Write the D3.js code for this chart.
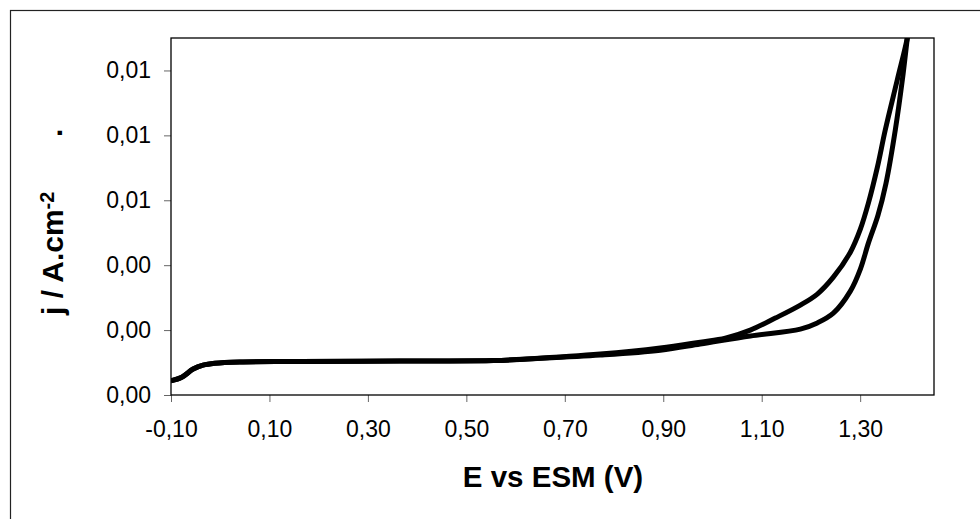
<!DOCTYPE html>
<html>
<head>
    <title>j vs E</title>
    <script type="text/javascript" src="https://d3js.org/d3.v7.min.js"></script>
    <style>
        body { margin: 0; background: #fff; }
        text { font-family: "Liberation Sans", Arial, sans-serif; }
    </style>
</head>
<body>
    <script>
        // forward scan (lower branch at high potential)
        var forwardE = [-0.10, -0.078, -0.055, -0.035, -0.011, 0.04, 0.162, 0.365, 0.555, 0.624, 0.772, 0.894, 0.975, 1.077, 1.1785, 1.213, 1.2455, 1.2801, 1.3004, 1.3167, 1.3362, 1.3524, 1.3715, 1.3858, 1.396, 1.40];
        var forwardJ = [0.00044, 0.00055, 0.00080, 0.00092, 0.00098, 0.00102, 0.00103, 0.00105, 0.00106, 0.00111, 0.00123, 0.00138, 0.00157, 0.00182, 0.00203, 0.00222, 0.00252, 0.00320, 0.00388, 0.00468, 0.00554, 0.00652, 0.00818, 0.00972, 0.01102, 0.01150];
        // reverse scan (upper branch)
        var reverseE = [1.40, 1.396, 1.3756, 1.3512, 1.335, 1.3167, 1.3004, 1.2801, 1.2455, 1.213, 1.1785, 1.1276, 1.0768, 1.026, 0.9752, 0.8939, 0.772, 0.6236, 0.555, 0.365, 0.162, 0.04, -0.011, -0.035, -0.055, -0.078, -0.10];
        var reverseJ = [0.01150, 0.01102, 0.00972, 0.00818, 0.00702, 0.00591, 0.00511, 0.00440, 0.00363, 0.00311, 0.00277, 0.00237, 0.00200, 0.00175, 0.00163, 0.00145, 0.00126, 0.00111, 0.00106, 0.00105, 0.00103, 0.00102, 0.00098, 0.00092, 0.00080, 0.00055, 0.00044];

        var xTickValues = [-0.10, 0.10, 0.30, 0.50, 0.70, 0.90, 1.10, 1.30];
        var xTickLabels = ["-0,10", "0,10", "0,30", "0,50", "0,70", "0,90", "1,10", "1,30"];
        var yTickValues = [0, 0.002, 0.004, 0.006, 0.008, 0.010];
        var yTickLabels = ["0,00", "0,00", "0,00", "0,01", "0,01", "0,01"];

        var margin = {top: 38, right: 46, bottom: 124, left: 171};
        var width = 980 - margin.left - margin.right;
        var height = 519 - margin.top - margin.bottom;

        var xScale = d3.scaleLinear().range([0, width]).domain([-0.10, 1.45]);
        var yScale = d3.scaleLinear().range([height, 0]).domain([0, 0.011]);

        var svg = d3.select("body").append("svg")
                    .attr("width", 980)
                    .attr("height", 519);

        // outer chart frame (runs off the right and bottom edges)
        svg.append("rect")
            .attr("x", 10.5).attr("y", 10.5)
            .attr("width", 1000).attr("height", 600)
            .attr("fill", "none")
            .attr("stroke", "#222")
            .attr("stroke-width", 1.2);

        var g = svg.append("g")
                   .attr("transform", "translate(" + margin.left + "," + margin.top + ")");

        g.append("clipPath").attr("id", "plotclip")
            .append("rect").attr("width", width).attr("height", height);

        // x axis
        var xAxis = g.append("g")
            .attr("transform", "translate(0," + height + ")")
            .call(d3.axisBottom(xScale)
                .tickValues(xTickValues)
                .tickFormat(function(d, i) { return xTickLabels[i]; })
                .tickSizeInner(7).tickSizeOuter(0).tickPadding(19));

        // y axis
        var yAxis = g.append("g")
            .call(d3.axisLeft(yScale)
                .tickValues(yTickValues)
                .tickFormat(function(d, i) { return yTickLabels[i]; })
                .tickSizeInner(7).tickSizeOuter(0).tickPadding(13));

        [xAxis, yAxis].forEach(function(ax) {
            ax.select(".domain").remove();
            ax.selectAll(".tick line").attr("stroke", "#666");
            ax.selectAll(".tick text")
              .attr("fill", "#000")
              .style("font-size", "23px")
              .style("font-family", "'Liberation Sans', Arial, sans-serif");
        });

        // plot area border
        g.append("rect")
            .attr("width", width).attr("height", height)
            .attr("fill", "none")
            .attr("stroke", "#000")
            .attr("stroke-width", 1.3);

        var line = d3.line()
            .x(function(d) { return xScale(d[0]); })
            .y(function(d) { return yScale(d[1]); })
            .curve(d3.curveCatmullRom.alpha(0.5));

        var forward = forwardE.map(function(e, i) { return [e, forwardJ[i]]; });
        var reverse = reverseE.map(function(e, i) { return [e, reverseJ[i]]; }).reverse();

        var lines = g.append("g").attr("clip-path", "url(#plotclip)");
        [forward, reverse].forEach(function(data) {
            lines.append("path")
                .datum(data)
                .attr("fill", "none")
                .attr("stroke", "#000")
                .attr("stroke-width", 5)
                .attr("stroke-linejoin", "round")
                .attr("d", line);
        });

        // axis titles
        svg.append("text")
            .attr("x", 553).attr("y", 487)
            .attr("text-anchor", "middle")
            .style("font-size", "29.5px")
            .style("font-weight", "bold")
            .text("E vs ESM (V)");

        var ylab = svg.append("text")
            .attr("transform", "translate(63,315) rotate(-90)")
            .style("font-size", "30px")
            .style("font-weight", "bold");
        ylab.append("tspan").text("j / A.cm");
        ylab.append("tspan").attr("dy", "-0.45em").style("font-size", "20px").text("-2");

        svg.append("text")
            .attr("transform", "translate(62,137) rotate(-90)")
            .style("font-size", "30px")
            .style("font-weight", "bold")
            .text(".");
    </script>
</body>
</html>
